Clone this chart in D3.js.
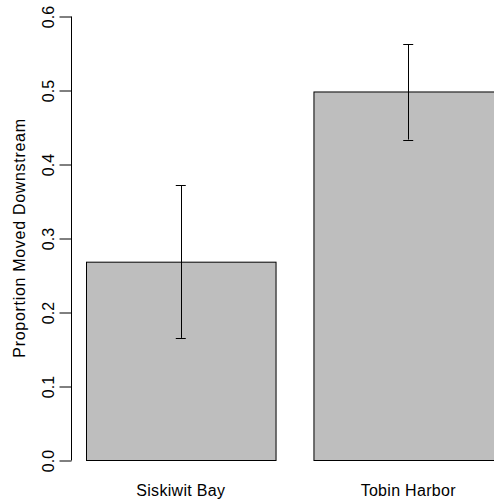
<!DOCTYPE html>
<html><head><meta charset="utf-8">
<script src="https://cdn.jsdelivr.net/npm/d3@7"></script>
<style>
html,body{margin:0;padding:0;background:#fff;}
svg{display:block;}
text{font-family:"Liberation Sans",Arial,Helvetica,sans-serif;font-size:16px;fill:#000;}
</style></head>
<body>
<script>
const categories = ["Siskiwit Bay", "Tobin Harbor"];
const proportions = [0.268, 0.498];
const lowerCI = [0.165, 0.433];
const upperCI = [0.371, 0.562];
const yTicks = [0.0, 0.1, 0.2, 0.3, 0.4, 0.5, 0.6];
const yLabel = "Proportion Moved Downstream";

const W = 494, H = 503;
const svg = d3.select("body").append("svg").attr("width", W).attr("height", H);

// R barplot layout: width 1, space 0.2
const barLeft = categories.map((d, i) => 0.2 + i * 1.2);
const x = d3.scaleLinear().domain([0.2, 2.4]).range([86, 503]);
const y = d3.scaleLinear().domain([0, 0.6]).range([460, 16]);

const data = categories.map((c, i) => ({
  c, v: proportions[i], lo: lowerCI[i], hi: upperCI[i],
  x0: barLeft[i], x1: barLeft[i] + 1, xm: barLeft[i] + 0.5
}));

svg.selectAll("rect.bar").data(data).enter().append("rect")
  .attr("class", "bar")
  .attr("x", d => x(d.x0) + 0.5)
  .attr("y", d => y(d.v) + 0.5)
  .attr("width", d => x(d.x1) - x(d.x0))
  .attr("height", d => y(0) - y(d.v))
  .attr("fill", "#BEBEBE")
  .attr("stroke", "#000")
  .attr("stroke-width", 1);

// error bars
const capHalf = 5;
const eb = svg.selectAll("g.eb").data(data).enter().append("g").attr("class", "eb")
  .attr("stroke", "#000").attr("stroke-width", 1);
eb.append("line")
  .attr("x1", d => Math.round(x(d.xm)) + 0.5).attr("x2", d => Math.round(x(d.xm)) + 0.5)
  .attr("y1", d => y(d.lo)).attr("y2", d => y(d.hi));
eb.append("line")
  .attr("x1", d => x(d.xm) - capHalf).attr("x2", d => x(d.xm) + capHalf)
  .attr("y1", d => Math.round(y(d.hi)) + 0.5).attr("y2", d => Math.round(y(d.hi)) + 0.5);
eb.append("line")
  .attr("x1", d => x(d.xm) - capHalf).attr("x2", d => x(d.xm) + capHalf)
  .attr("y1", d => Math.round(y(d.lo)) + 0.5).attr("y2", d => Math.round(y(d.lo)) + 0.5);

// y axis
const axisX = 71;
const yAxis = d3.axisLeft(y).tickValues(yTicks).tickFormat(d3.format(".1f"))
  .tickSize(12).tickPadding(6);
const gA = svg.append("g").attr("transform", `translate(${axisX + 0.5},0.5)`).call(yAxis);
gA.select(".domain").attr("d", `M0,${y(0.6)}V${y(0)}`).attr("stroke", "#000");
gA.selectAll(".tick line").attr("stroke", "#000");
gA.selectAll(".tick text")
  .attr("font-size", 17).attr("font-family", null)
  .attr("x", null).attr("dy", null)
  .attr("text-anchor", "middle")
  .attr("transform", "translate(-18,0) rotate(-90)")
  .attr("y", 0);

// x category labels
svg.selectAll("text.cat").data(data).enter().append("text")
  .attr("class", "cat")
  .attr("x", d => x(d.xm))
  .attr("y", 496)
  .attr("text-anchor", "middle")
  .attr("font-size", 16.5)
  .attr("letter-spacing", 0.3)
  .text(d => d.c);

// y label
svg.append("text")
  .attr("transform", `translate(25,${(y(0) + y(0.6)) / 2}) rotate(-90)`)
  .attr("text-anchor", "middle")
  .attr("font-size", 17)
  .attr("letter-spacing", 0.7)
  .text(yLabel);
</script>
</body></html>
